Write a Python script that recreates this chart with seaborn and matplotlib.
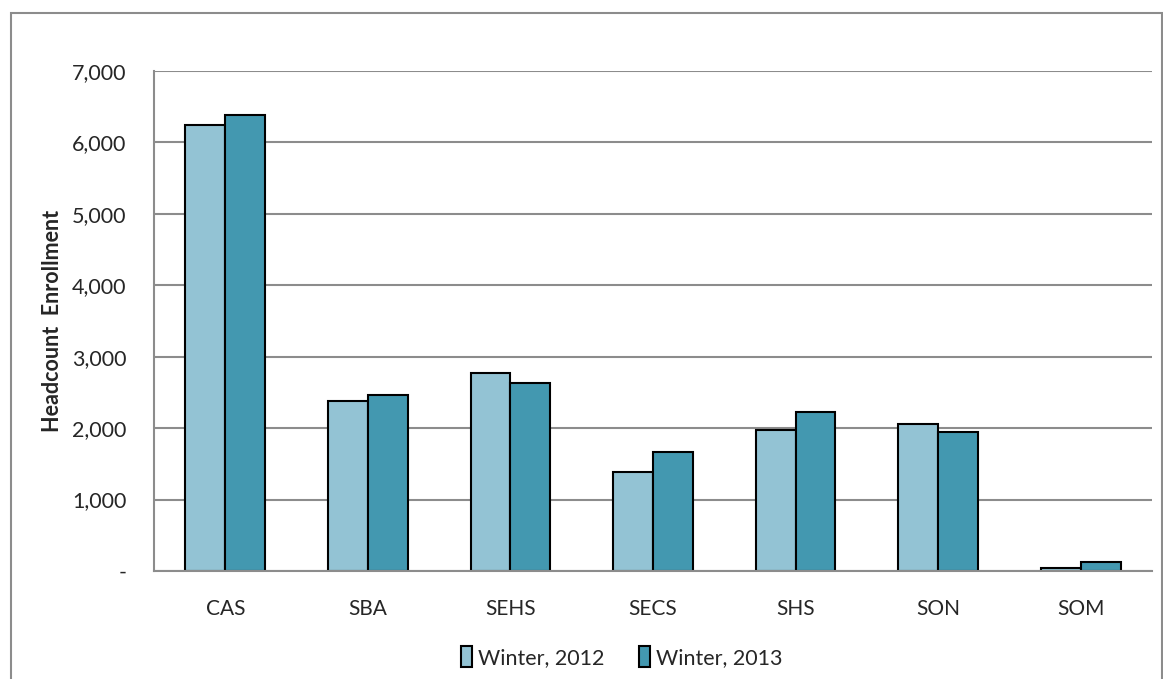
import numpy as np
import pandas as pd
import seaborn as sns
import matplotlib.pyplot as plt
from matplotlib.patches import Rectangle
from matplotlib.ticker import FuncFormatter

schools = ["CAS", "SBA", "SEHS", "SECS", "SHS", "SON", "SOM"]
winter_2012 = [6246, 2385, 2772, 1388, 1970, 2055, 47]
winter_2013 = [6387, 2470, 2633, 1669, 2222, 1950, 130]
terms = ["Winter, 2012", "Winter, 2013"]
yticks = [0, 1000, 2000, 3000, 4000, 5000, 6000, 7000]

df = pd.DataFrame({
    "School": schools * 2,
    "Term": [terms[0]] * len(schools) + [terms[1]] * len(schools),
    "Headcount": winter_2012 + winter_2013,
})

sns.set_style("white")
plt.rcParams["font.family"] = ["Lato", "DejaVu Sans"]

W, H = 1163, 679
fig = plt.figure(figsize=(W / 100, H / 100), dpi=100)
ax = fig.add_axes([154 / W, 1 - 571 / H, (1152 - 154) / W, (571 - 71) / H])

sns.barplot(data=df, x="School", y="Headcount", hue="Term", order=schools,
            hue_order=terms, palette=["#93c3d4", "#4398b0"], width=0.56,
            edgecolor="black", linewidth=1.5, saturation=1, ax=ax)

ax.set_ylim(0, 7000)
ax.set_xlim(-0.5, len(schools) - 0.5)
ax.set_yticks(yticks)
ax.yaxis.set_major_formatter(FuncFormatter(lambda v, p: "-" if v == 0 else f"{int(v):,}"))
ax.yaxis.grid(True, color="#8c8c8c", linewidth=1.5)
ax.set_axisbelow(True)

for s in ["top", "right"]:
    ax.spines[s].set_visible(False)
for s in ["left", "bottom"]:
    ax.spines[s].set_color("#8c8c8c")
    ax.spines[s].set_linewidth(1.5)

ax.tick_params(axis="y", length=6, color="#8c8c8c", width=1.5, labelsize=15.5, pad=14)
ax.tick_params(axis="x", which="major", length=0, labelsize=15, pad=20)
ax.set_xticks(np.arange(-0.5, len(schools)), minor=True)
ax.tick_params(axis="x", which="minor", length=6, color="#8c8c8c", width=1.5)

ax.set_xlabel("")
ax.set_ylabel("Headcount  Enrollment", fontsize=15.5, fontweight="bold")
ax.yaxis.set_label_coords(-0.091, 0.5)

leg = ax.legend(loc="center", bbox_to_anchor=(0.469, -0.172), ncol=2, frameon=False,
                fontsize=15.5, handlelength=0.5, handleheight=1.1, handletextpad=0.3,
                columnspacing=1.6)

fig.patches.append(Rectangle((11 / W, -0.01), (1162 - 11) / W, 1 - 13 / H + 0.01,
                             transform=fig.transFigure, fill=False,
                             edgecolor="#8c8c8c", linewidth=1.5))

fig.savefig("out.png", dpi=100)
